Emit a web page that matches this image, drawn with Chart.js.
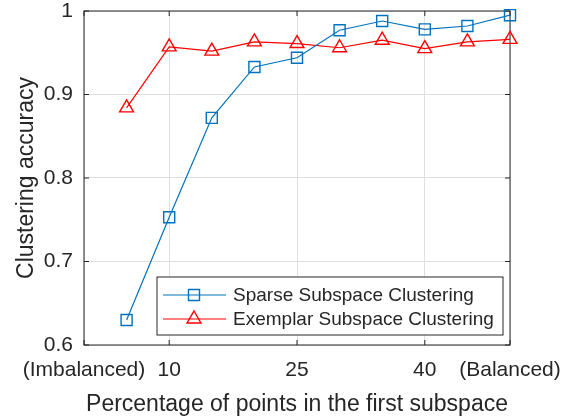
<!DOCTYPE html>
<html>
<head>
<meta charset="utf-8">
<script src="https://cdn.jsdelivr.net/npm/chart.js@4/dist/chart.umd.min.js"></script>
<style>
  html, body { margin: 0; padding: 0; background: #fff; }
  canvas { display: block; }
</style>
</head>
<body>
<canvas id="chart" width="574" height="418"></canvas>
<script>
// percentage of points in the first subspace
const percentages = [5, 10, 15, 20, 25, 30, 35, 40, 45, 50];
const sparseAcc = [0.630, 0.753, 0.872, 0.933, 0.944, 0.977, 0.988, 0.978, 0.982, 0.995];
const exemplarAcc = [0.884, 0.957, 0.952, 0.963, 0.961, 0.956, 0.965, 0.955, 0.963, 0.966];

const xTickValues = [0, 10, 25, 40, 50];
const xTickLabels = ['(Imbalanced)', '10', '25', '40', '(Balanced)'];
const yTickValues = [0.6, 0.7, 0.8, 0.9, 1];

const FONT = '"Liberation Sans", Arial, Helvetica, sans-serif';
const INK = '#262626';
const GRID = '#dfdfdf';
const BLUE = '#0072BD';
const RED = '#FF0000';

const toPoints = (ys) => ys.map((y, i) => ({ x: percentages[i], y }));

// matlab-ish box with inward ticks on all four sides
const axesBox = {
  id: 'axesBox',
  beforeDatasetsDraw(chart) {
    const { ctx, chartArea: a, scales: { x, y } } = chart;
    const len = 5;
    ctx.save();
    ctx.strokeStyle = INK;
    ctx.lineWidth = 1;
    ctx.beginPath();
    xTickValues.forEach((v) => {
      const px = x.getPixelForValue(v);
      ctx.moveTo(px, a.bottom); ctx.lineTo(px, a.bottom - len);
      ctx.moveTo(px, a.top); ctx.lineTo(px, a.top + len);
    });
    yTickValues.forEach((v) => {
      const py = y.getPixelForValue(v);
      ctx.moveTo(a.left, py); ctx.lineTo(a.left + len, py);
      ctx.moveTo(a.right, py); ctx.lineTo(a.right - len, py);
    });
    ctx.stroke();
    ctx.strokeRect(a.left, a.top, a.right - a.left, a.bottom - a.top);
    ctx.restore();
  }
};

// legend box inside the plot, line + marker like matlab
const boxLegend = {
  id: 'boxLegend',
  afterDraw(chart) {
    const { ctx, chartArea: a } = chart;
    const left = a.left + 73, top = a.top + 266, w = 346, h = 58;
    ctx.save();
    ctx.fillStyle = '#fff';
    ctx.fillRect(left, top, w, h);
    ctx.strokeStyle = INK;
    ctx.lineWidth = 1;
    ctx.strokeRect(left, top, w, h);
    chart.data.datasets.forEach((ds, i) => {
      const rowY = top + 18 + i * 24;
      ctx.strokeStyle = ds.borderColor;
      ctx.lineWidth = ds.borderWidth;
      ctx.beginPath();
      ctx.moveTo(left + 6, rowY);
      ctx.lineTo(left + 69, rowY);
      ctx.stroke();
      ctx.lineWidth = ds.pointBorderWidth;
      ctx.fillStyle = 'rgba(0,0,0,0)';
      Chart.helpers.drawPoint(ctx, {
        pointStyle: ds.pointStyle,
        radius: ds.pointRadius,
        borderWidth: ds.pointBorderWidth,
        rotation: 0
      }, left + 37, rowY);
      ctx.fillStyle = INK;
      ctx.font = `19px ${FONT}`;
      ctx.textBaseline = 'middle';
      ctx.textAlign = 'left';
      ctx.fillText(ds.label, left + 76, rowY + 1);
    });
    ctx.restore();
  }
};

new Chart(document.getElementById('chart'), {
  type: 'line',
  data: {
    datasets: [{
      label: 'Sparse Subspace Clustering',
      data: toPoints(sparseAcc),
      borderColor: BLUE,
      borderWidth: 1.2,
      pointStyle: 'rect',
      pointRadius: 7.8,
      pointBorderWidth: 1.4,
      pointBorderColor: BLUE,
      pointBackgroundColor: 'rgba(0,0,0,0)',
      tension: 0,
      clip: false
    }, {
      label: 'Exemplar Subspace Clustering',
      data: toPoints(exemplarAcc),
      borderColor: RED,
      borderWidth: 1.2,
      pointStyle: 'triangle',
      pointRadius: 8,
      pointBorderWidth: 1.4,
      pointBorderColor: RED,
      pointBackgroundColor: 'rgba(0,0,0,0)',
      tension: 0,
      clip: false
    }]
  },
  options: {
    responsive: false,
    animation: false,
    layout: { padding: { left: 0, top: 11, right: 64, bottom: 0 } },
    plugins: { legend: { display: false }, tooltip: { enabled: false } },
    scales: {
      x: {
        type: 'linear',
        min: 0,
        max: 50,
        afterBuildTicks: (scale) => { scale.ticks = xTickValues.map((value) => ({ value })); },
        afterFit: (scale) => {
          scale.height = 73;
          scale.paddingLeft = 0;
          scale.paddingRight = 0;
        },
        grid: { color: GRID, drawTicks: false },
        border: { display: false },
        ticks: {
          autoSkip: false,
          maxRotation: 0,
          padding: 13,
          color: INK,
          font: { family: FONT, size: 21 },
          callback: (v) => xTickLabels[xTickValues.indexOf(v)]
        },
        title: {
          display: true,
          text: 'Percentage of points in the first subspace',
          color: INK,
          font: { family: FONT, size: 23 },
          padding: { top: 0, bottom: 0 }
        }
      },
      y: {
        min: 0.6,
        max: 1,
        afterBuildTicks: (scale) => { scale.ticks = yTickValues.map((value) => ({ value })); },
        afterFit: (scale) => {
          scale.width = 84;
          scale.paddingTop = 0;
          scale.paddingBottom = 0;
        },
        grid: { color: GRID, drawTicks: false },
        border: { display: false },
        ticks: {
          padding: 11,
          color: INK,
          font: { family: FONT, size: 21 },
          callback: (v) => String(+v.toFixed(1))
        },
        title: {
          display: true,
          text: 'Clustering accuracy',
          color: INK,
          font: { family: FONT, size: 23 },
          padding: { top: 13, bottom: 0 }
        }
      }
    }
  },
  plugins: [axesBox, boxLegend]
});
</script>
</body>
</html>
